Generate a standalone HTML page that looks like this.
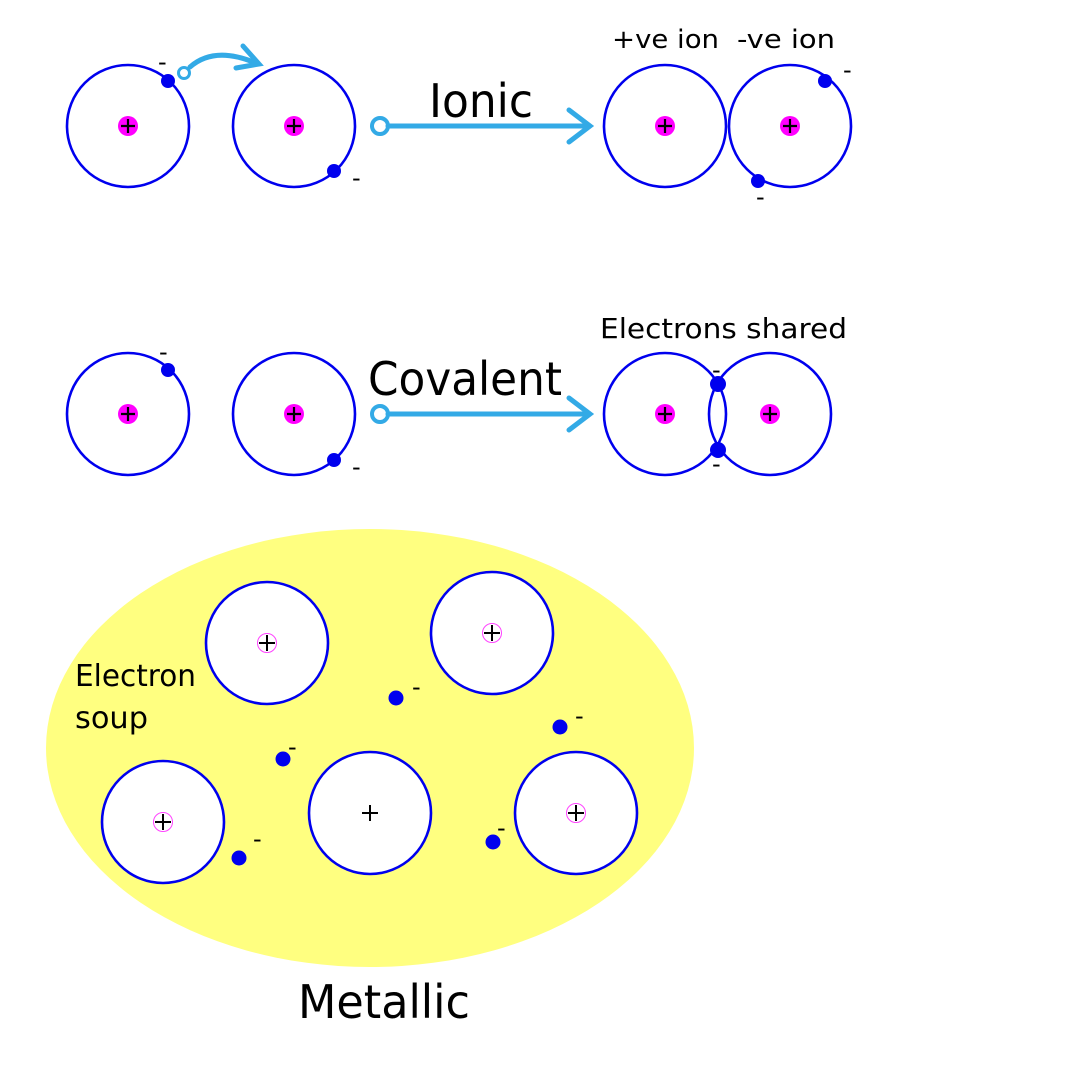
<!DOCTYPE html>
<html><head><style>html,body{margin:0;padding:0;background:#fff}svg{display:block}</style></head><body>
<svg width="1080" height="1080" viewBox="0 0 1080 1080" xmlns="http://www.w3.org/2000/svg" font-family="'DejaVu Sans', 'Liberation Sans', sans-serif">
<defs>
<g id="nuc"><circle r="10" fill="#ff00ff"/><path d="M-7 0H7M0 -7V7" stroke="#000" stroke-width="2.2"/></g>
<g id="nuc2"><circle r="9.5" fill="#fff" stroke="#ff44ff" stroke-width="1"/><path d="M-8 0H8M0 -8V8" stroke="#000" stroke-width="2"/></g>
</defs>
<g fill="none" stroke="#0000ee" stroke-width="2.6">
<circle cx="128" cy="126" r="61"/><circle cx="294" cy="126" r="61"/>
<circle cx="665" cy="126" r="61"/><circle cx="790" cy="126" r="61"/>
<circle cx="128" cy="414" r="61"/><circle cx="294" cy="414" r="61"/>
<circle cx="665" cy="414" r="61"/><circle cx="770" cy="414" r="61"/>
</g>
<g fill="#0000ee">
<circle cx="168" cy="81" r="7"/><circle cx="334" cy="171" r="7"/><circle cx="825" cy="81" r="7"/><circle cx="758" cy="181" r="7"/>
<circle cx="168" cy="370" r="7"/><circle cx="334" cy="460" r="7"/><circle cx="718" cy="384" r="8"/><circle cx="718" cy="450" r="8"/>
</g>
<use href="#nuc" x="128" y="126"/><use href="#nuc" x="294" y="126"/><use href="#nuc" x="665" y="126"/><use href="#nuc" x="790" y="126"/>
<use href="#nuc" x="128" y="414"/><use href="#nuc" x="294" y="414"/><use href="#nuc" x="665" y="414"/><use href="#nuc" x="770" y="414"/>
<g stroke="#33aae6" fill="none" stroke-width="5" stroke-linecap="round">
<circle cx="184" cy="73" r="5.5" stroke-width="3" fill="#fff"/>
<path d="M190 67 Q215 45 258 64"/>
<path d="M243 46 L259 64 L236 68"/>
<circle cx="380" cy="126" r="8" stroke-width="4" fill="#fff"/>
<path d="M388 126 H590 M569 110 L590 126 L569 142"/>
<circle cx="380" cy="414" r="8" stroke-width="4" fill="#fff"/>
<path d="M388 414 H590 M569 398 L590 414 L569 430"/>
</g>
<g font-size="24" fill="#000">
<text x="158" y="70">-</text><text x="352" y="186">-</text><text x="843" y="78">-</text><text x="756" y="205">-</text>
<text x="159" y="360">-</text><text x="352" y="475">-</text><text x="712" y="378">-</text><text x="712" y="472">-</text>
</g>
<g fill="#000">
<text x="612" y="48" font-size="26" textLength="107" lengthAdjust="spacingAndGlyphs">+ve ion</text>
<text x="737" y="48" font-size="26" textLength="98" lengthAdjust="spacingAndGlyphs">-ve ion</text>
<text x="429" y="117" font-size="46" textLength="104" lengthAdjust="spacingAndGlyphs">Ionic</text>
<text x="368" y="395" font-size="46" textLength="194" lengthAdjust="spacingAndGlyphs">Covalent</text>
<text x="600" y="338" font-size="28" textLength="247" lengthAdjust="spacingAndGlyphs">Electrons shared</text>
</g>
<ellipse cx="370" cy="748" rx="324" ry="219" fill="#ffff80"/>
<g fill="#fff" stroke="#0000ee" stroke-width="2.6">
<circle cx="267" cy="643" r="61"/><circle cx="492" cy="633" r="61"/><circle cx="163" cy="822" r="61"/><circle cx="370" cy="813" r="61"/><circle cx="576" cy="813" r="61"/>
</g>
<use href="#nuc2" x="267" y="643"/><use href="#nuc2" x="492" y="633"/><use href="#nuc2" x="163" y="822"/><use href="#nuc2" x="576" y="813"/>
<path d="M362 813H378M370 805V821" stroke="#000" stroke-width="2"/>
<g fill="#0000ee">
<circle cx="396" cy="698" r="7.5"/><circle cx="283" cy="759" r="7.5"/><circle cx="560" cy="727" r="7.5"/><circle cx="239" cy="858" r="7.5"/><circle cx="493" cy="842" r="7.5"/>
</g>
<g font-size="24" fill="#000">
<text x="412" y="695">-</text><text x="288" y="755">-</text><text x="575" y="724">-</text><text x="253" y="847">-</text><text x="497" y="836">-</text>
</g>
<g fill="#000">
<text x="75" y="686" font-size="30" textLength="121" lengthAdjust="spacingAndGlyphs">Electron</text>
<text x="75" y="728" font-size="30" textLength="73" lengthAdjust="spacingAndGlyphs">soup</text>
<text x="298" y="1018" font-size="46" textLength="172" lengthAdjust="spacingAndGlyphs">Metallic</text>
</g>
</svg>
</body></html>
